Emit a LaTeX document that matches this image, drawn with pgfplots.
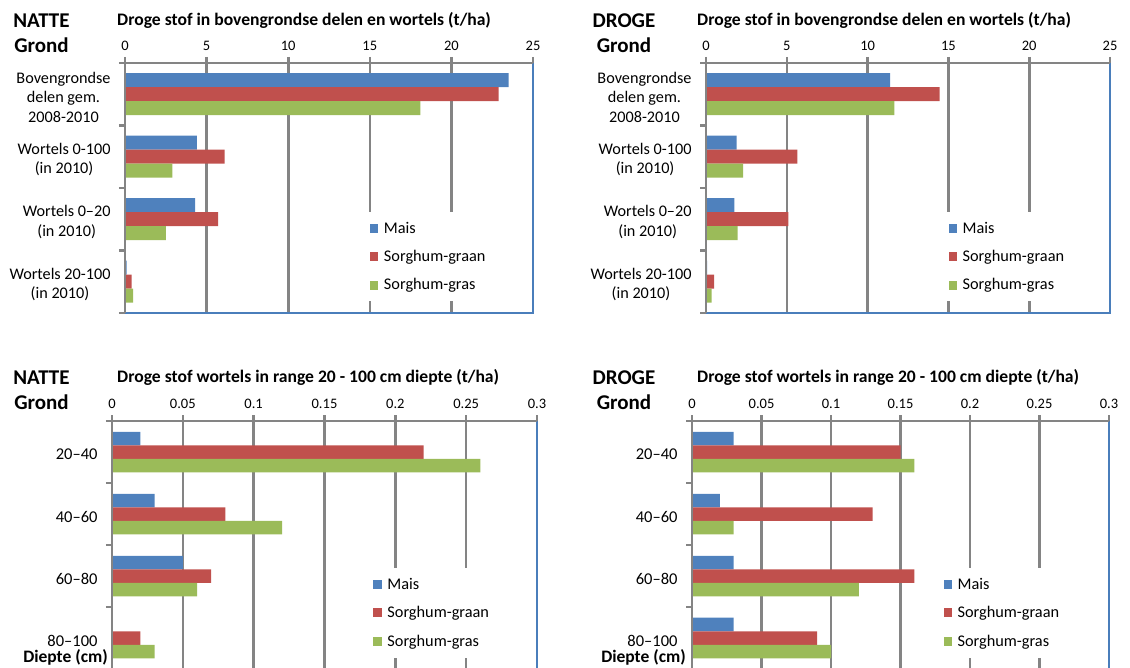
\documentclass[border=0pt]{standalone}
\usepackage{fontspec}
\setmainfont{Carlito}
\usepackage{pgfplots}
\pgfplotsset{compat=1.18}
\definecolor{mais}{HTML}{4F81BD}
\definecolor{graan}{HTML}{C0504D}
\definecolor{gras}{HTML}{9BBB59}
\definecolor{gridc}{HTML}{848484}
\definecolor{bord}{HTML}{4A7EBB}
\def\ftick{\fontsize{14.5bp}{17bp}\selectfont}
\def\fcat{\fontsize{16.2bp}{19.5bp}\selectfont}
\def\fcatb{\fontsize{16.5bp}{19.5bp}\selectfont}
\def\fleg{\fontsize{16.3bp}{18bp}\selectfont}
\def\ftitle{\fontsize{17.6bp}{19bp}\selectfont\bfseries}
\def\fbig{\fontsize{21bp}{25bp}\selectfont\bfseries}
\pgfplotsset{
  base/.style={
    scale only axis,
    xbar=0pt,
    ymin=-0.5, ymax=3.5,
    enlargelimits=false,
    clip=false,
    axis line style={draw=none},
    xtick pos=right, xticklabel pos=right,
    ytick pos=left,
    tick align=outside,
    major tick length=6bp,
    tick style={draw=gridc, line width=2.6bp},
    xmajorgrids,
    grid style={draw=gridc, line width=2.6bp},
    ytick={-0.5,0.5,1.5,2.5,3.5},
    yticklabel style={align=center, xshift=-5bp},
    xticklabel style={font=\ftick, yshift=3bp},
    /pgf/number format/assume math mode=true,
    legend style={draw=none, fill=white, anchor=north west, font=\fleg,
      inner xsep=2bp, inner ysep=8bp, row sep=11.5bp},
    legend cell align=left,
    legend image code/.code={\fill[##1] (0bp,-4.5bp) rectangle (8.5bp,4.5bp); \path (12bp,0bp);},
  },
  mais/.style={fill=mais, draw=none, bar shift=#1},
  graan/.style={fill=graan, draw=none, bar shift=0bp},
  gras/.style={fill=gras, draw=none, bar shift=-#1},
}
\newcommand\plotframe{%
  \draw[bord, line width=2.2bp] (axis description cs:1,1) -- (axis description cs:1,0) -- (axis description cs:0,0);
  \draw[gridc, line width=2.6bp] (axis description cs:0,0) -- (axis description cs:0,1) -- (axis description cs:1,1);
}
\begin{document}
\begin{tikzpicture}
\useasboundingbox (0,0) rectangle (1130bp,668bp);

% ---------- top left: NATTE ----------
\begin{axis}[base,
  at={(125bp,355bp)}, anchor=south west, width=408bp, height=250bp,
  bar width=14bp,
  xmin=0, xmax=25, xtick={0,5,10,15,20,25},
  yticklabels={{},{Wortels 20-100\\(in 2010)},{Wortels 0–20\\(in 2010)},{Wortels 0-100\\(in 2010)},{Bovengrondse\\delen gem.\\2008-2010}},
  yticklabel style={yshift=-34bp, font=\fcat},
  legend style={at={(axis description cs:0.595,0.404)}},
]
\addplot[mais=14bp] coordinates {(23.5,3) (4.4,2) (4.3,1) (0.1,0)};
\addplot[graan] coordinates {(22.9,3) (6.1,2) (5.7,1) (0.4,0)};
\addplot[gras=14bp] coordinates {(18.1,3) (2.9,2) (2.5,1) (0.5,0)};
\legend{Mais,Sorghum-graan,Sorghum-gras}
\plotframe
\end{axis}

% ---------- top right: DROGE ----------
\begin{axis}[base,
  at={(706bp,355bp)}, anchor=south west, width=404bp, height=250bp,
  bar width=14bp,
  xmin=0, xmax=25, xtick={0,5,10,15,20,25},
  yticklabels={{},{Wortels 20-100\\(in 2010)},{Wortels 0–20\\(in 2010)},{Wortels 0-100\\(in 2010)},{Bovengrondse\\delen gem.\\2008-2010}},
  yticklabel style={yshift=-34bp, font=\fcat},
  legend style={at={(axis description cs:0.595,0.404)}},
]
\addplot[mais=14bp] coordinates {(11.4,3) (1.9,2) (1.75,1) (0.07,0)};
\addplot[graan] coordinates {(14.45,3) (5.65,2) (5.1,1) (0.5,0)};
\addplot[gras=14bp] coordinates {(11.65,3) (2.3,2) (1.95,1) (0.35,0)};
\legend{Mais,Sorghum-graan,Sorghum-gras}
\plotframe
\end{axis}

% ---------- bottom left: NATTE ----------
\begin{axis}[base,
  at={(112bp,-1bp)}, anchor=south west, width=425bp, height=248bp,
  bar width=13.5bp,
  xmin=0, xmax=0.3, xtick={0,0.05,0.1,0.15,0.2,0.25,0.3},
  xticklabels={0,0.05,0.1,0.15,0.2,0.25,0.3},
  yticklabels={{},{80–100},{60–80},{40–60},{20–40}},
  yticklabel style={yshift=-33.5bp, font=\fcatb},
  legend style={at={(axis description cs:0.61,0.407)}},
]
\addplot[mais=13.5bp] coordinates {(0.02,3) (0.03,2) (0.05,1) (0,0)};
\addplot[graan] coordinates {(0.22,3) (0.08,2) (0.07,1) (0.02,0)};
\addplot[gras=13.5bp] coordinates {(0.26,3) (0.12,2) (0.06,1) (0.03,0)};
\legend{Mais,Sorghum-graan,Sorghum-gras}
\plotframe
\end{axis}

% ---------- bottom right: DROGE ----------
\begin{axis}[base,
  at={(692bp,-1bp)}, anchor=south west, width=417bp, height=248bp,
  bar width=13.5bp,
  xmin=0, xmax=0.3, xtick={0,0.05,0.1,0.15,0.2,0.25,0.3},
  xticklabels={0,0.05,0.1,0.15,0.2,0.25,0.3},
  yticklabels={{},{80–100},{60–80},{40–60},{20–40}},
  yticklabel style={yshift=-33.5bp, font=\fcatb},
  legend style={at={(axis description cs:0.598,0.407)}},
]
\addplot[mais=13.5bp] coordinates {(0.03,3) (0.02,2) (0.03,1) (0.03,0)};
\addplot[graan] coordinates {(0.15,3) (0.13,2) (0.16,1) (0.09,0)};
\addplot[gras=13.5bp] coordinates {(0.16,3) (0.03,2) (0.12,1) (0.10,0)};
\legend{Mais,Sorghum-graan,Sorghum-gras}
\plotframe
\end{axis}

% ---------- texts ----------
\node[anchor=west, font=\ftitle, inner sep=0pt] at (117bp,648bp) {Droge stof in bovengrondse delen en wortels (t/ha)};
\node[anchor=west, font=\ftitle, inner sep=0pt] at (697bp,648bp) {Droge stof in bovengrondse delen en wortels (t/ha)};
\node[anchor=west, font=\ftitle, inner sep=0pt] at (117bp,291bp) {Droge stof wortels in range 20 - 100 cm diepte (t/ha)};
\node[anchor=west, font=\ftitle, inner sep=0pt] at (697bp,291bp) {Droge stof wortels in range 20 - 100 cm diepte (t/ha)};
\node[align=center, font=\fbig, inner sep=0pt] at (41.5bp,634.5bp) {NATTE\\Grond};
\node[align=center, font=\fbig, inner sep=0pt] at (624bp,634.5bp) {DROGE\\Grond};
\node[align=center, font=\fbig, inner sep=0pt] at (41.5bp,278bp) {NATTE\\Grond};
\node[align=center, font=\fbig, inner sep=0pt] at (624bp,278bp) {DROGE\\Grond};
\node[anchor=east, font=\fontsize{17.5bp}{20bp}\selectfont\bfseries, inner sep=0pt] at (108bp,11bp) {Diepte (cm)};
\node[anchor=east, font=\fontsize{17.5bp}{20bp}\selectfont\bfseries, inner sep=0pt] at (686bp,11bp) {Diepte (cm)};
\end{tikzpicture}
\end{document}
